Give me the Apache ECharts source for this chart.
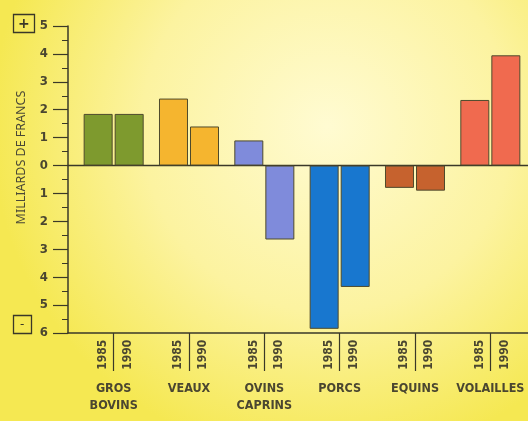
<!DOCTYPE html>
<html>
<head>
<meta charset="utf-8">
<script src="https://cdn.jsdelivr.net/npm/echarts@6/dist/echarts.min.js"></script>
<style>
html,body{margin:0;padding:0;background:#fbf28c;}
#c{width:528px;height:421px;}
</style>
</head>
<body>
<div id="c"></div>
<script>
const categories = ['GROS\nBOVINS', 'VEAUX', 'OVINS\nCAPRINS', 'PORCS', 'EQUINS', 'VOLAILLES'];
const years = ['1985', '1990'];
const values1985 = [1.85, 2.4, 0.9, -5.85, -0.8, 2.35];
const values1990 = [1.85, 1.4, -2.65, -4.35, -0.9, 3.95];
const categoryColors = ['#7e9a2e', '#f5b52f', '#7f8bdb', '#1877cf', '#c6622e', '#f06a4f'];
const yMin = -6, yMax = 5;

const FONT = "'DejaVu Sans Condensed', 'Liberation Sans Narrow', sans-serif";
const TXT = '#4a4630';
const LINE = '#3a3828';

const chart = echarts.init(document.getElementById('c'));

function barSeries(name, data) {
  return {
    name: name, type: 'bar', xAxisIndex: 0, yAxisIndex: 0,
    data: data, barWidth: 29, barGap: '7%', z: 3,
    itemStyle: {
      color: p => categoryColors[p.dataIndex],
      borderColor: '#4e4a2c', borderWidth: 1
    }
  };
}
function yearLabelSeries(name, xPos) {
  return {
    name: name + '-label', type: 'bar', xAxisIndex: 1, yAxisIndex: 0,
    data: categories.map(() => yMin), barWidth: 29, barGap: '7%', silent: true, z: 1,
    itemStyle: { color: 'rgba(0,0,0,0)' },
    label: {
      show: true, formatter: name, position: [xPos, '104%'], rotate: 90,
      align: 'right', verticalAlign: 'middle',
      fontFamily: FONT, fontSize: 12, fontWeight: 'bold', color: TXT
    }
  };
}

chart.setOption({
  backgroundColor: new echarts.graphic.RadialGradient(0.62, 0.3, 0.8, [
    { offset: 0, color: '#fffbd2' },
    { offset: 0.55, color: '#fcf3a0' },
    { offset: 1, color: '#f5e852' }
  ]),
  animation: false,
  title: [
    { text: '+', left: 13, top: 14, padding: [1, 5, 0, 5], borderColor: LINE, borderWidth: 1.3,
      textStyle: { fontFamily: 'DejaVu Sans', fontSize: 14, lineHeight: 18, fontWeight: 'bold', color: LINE } },
    { text: '-', left: 13, top: 315, padding: [1, 7, 0, 7], borderColor: LINE, borderWidth: 1.3,
      textStyle: { fontFamily: 'DejaVu Sans', fontSize: 12, lineHeight: 18, fontWeight: 'normal', color: LINE } }
  ],
  grid: [
    { left: 76, right: -3, top: 26, bottom: 88, containLabel: false },
    { left: 68, right: 0, top: 26, bottom: 88, containLabel: false }
  ],
  xAxis: [
    {
      type: 'category', data: categories, position: 'bottom', gridIndex: 0,
      axisLine: { show: false, onZero: false },
      axisTick: { show: true, alignWithLabel: true, length: 38, lineStyle: { color: LINE, width: 1.2 } },
      axisLabel: { margin: 47, fontFamily: FONT, fontSize: 12.5, fontWeight: 'bold', lineHeight: 17, color: TXT, interval: 0 },
      splitLine: { show: false }
    },
    {
      type: 'category', data: categories, position: 'top', gridIndex: 0,
      axisLine: { show: false }, axisTick: { show: false }, axisLabel: { show: false }, splitLine: { show: false }
    },
    {
      type: 'category', data: categories, position: 'top', gridIndex: 1,
      axisLine: { onZero: true, lineStyle: { color: LINE, width: 1.3 } },
      axisTick: { show: false }, axisLabel: { show: false }, splitLine: { show: false }
    },
    {
      type: 'category', data: categories, position: 'bottom', gridIndex: 1,
      axisLine: { onZero: false, lineStyle: { color: LINE, width: 1.5 } },
      axisTick: { show: false }, axisLabel: { show: false }, splitLine: { show: false }
    }
  ],
  yAxis: [
    {
      type: 'value', min: yMin, max: yMax, interval: 1, offset: 8, gridIndex: 0,
      name: 'MILLIARDS DE FRANCS', nameLocation: 'middle', nameRotate: 90, nameGap: 40,
      nameTextStyle: { fontFamily: "'Noto Sans', 'DejaVu Sans', sans-serif", fontSize: 12.5, color: '#4a4836', padding: [0, 0, 0, 44] },
      axisLine: { show: true, lineStyle: { color: LINE, width: 1.5 } },
      axisTick: { show: true, length: 15, lineStyle: { color: LINE, width: 1.2 } },
      minorTick: { show: true, splitNumber: 2, length: 6, lineStyle: { color: LINE, width: 1 } },
      axisLabel: { margin: 20, formatter: v => String(Math.abs(v)), fontFamily: FONT, fontSize: 13, fontWeight: 'bold', color: TXT },
      splitLine: { show: false }
    },
    {
      type: 'value', min: yMin, max: yMax, interval: 1, gridIndex: 1,
      axisLine: { show: false }, axisTick: { show: false }, axisLabel: { show: false }, splitLine: { show: false }
    }
  ],
  series: [
    barSeries(years[0], values1985),
    barSeries(years[1], values1990),
    yearLabelSeries(years[0], '66%'),
    yearLabelSeries(years[1], '45%')
  ]
});
</script>
</body>
</html>
